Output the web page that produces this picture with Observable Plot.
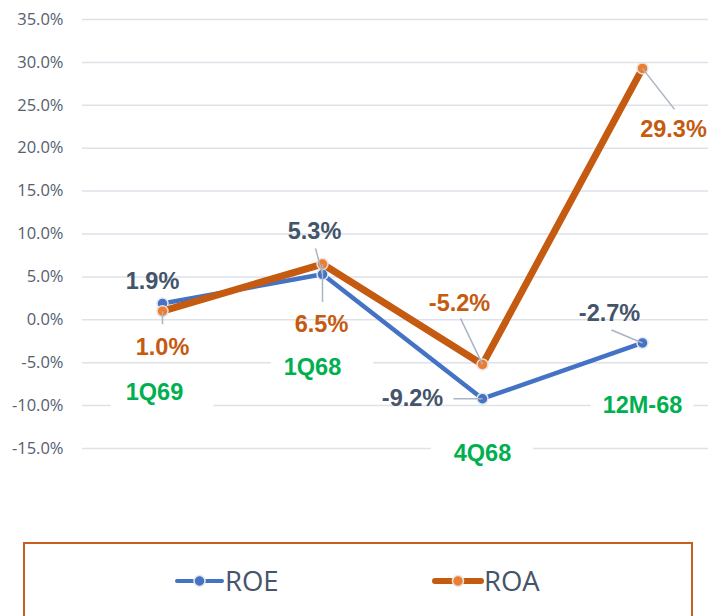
<!DOCTYPE html>
<html><head><meta charset="utf-8">
<script src="https://cdn.jsdelivr.net/npm/d3@7"></script>
<script src="https://cdn.jsdelivr.net/npm/@observablehq/plot@0.6"></script>
<style>
html,body{margin:0;padding:0;background:#fff;}
body{width:708px;height:616px;overflow:hidden;position:relative;}
#chart{position:absolute;left:0;top:0;}
#legend{position:absolute;left:23px;top:542px;width:670px;height:120px;border:2px solid #c65f1f;box-sizing:border-box;}
#legend svg{display:block;}
</style></head><body>
<div id="chart"></div>
<div id="legend"></div>
<script>
// ---- data ----
const categories = ["1Q69", "1Q68", "4Q68", "12M-68"];
const roe = [1.9, 5.3, -9.2, -2.7];
const roa = [1.0, 6.5, -5.2, 29.3];
const yTicks = [-15, -10, -5, 0, 5, 10, 15, 20, 25, 30, 35];
const seriesNames = ["ROE", "ROA"];

// ---- layout / style ----
const W = 708, H = 530;
const X_RANGE = [82, 722], Y_RANGE_TOP = 19, Y_RANGE_BOTTOM = 448;
const PX_X = (X_RANGE[1] - X_RANGE[0]) / 4;
const PX_Y = (Y_RANGE_BOTTOM - Y_RANGE_TOP) / 50;
const C_ROE = "#4472c4", C_ROA = "#c55a11", C_ROA_DOT = "#ed7d31";
const C_ROE_LABEL = "#44546a", C_CAT = "#00b050";
const labelFont = "Liberation Sans, Arial, sans-serif";
const LABEL_SIZE = 23.5;

const rows = categories.map((c, i) => ({i, c, roe: roe[i], roa: roa[i]}));

// data-label offsets (px) relative to their points
const roeLabelOff = [[-10, -22], [-8, -43], [-70, 0], [-33, -29]];
const roaLabelOff = [[0, 36], [-1, 60], [-23, -61], [31, 61]];
// leader line end offsets (px) relative to points (null = none)
const roeLeader = [null, [-7, -26], [-29, 0], [-31, -13]];
const roaLeader = [[0, 13], [0, 38], [-22, -46], [32, 41]];
// category label offsets (px) relative to the 0 line
const catOff = [[-8, 73], [-10, 48], [0, 134], [0, 86]];

const marks = [];
marks.push(Plot.ruleY(yTicks, {stroke: "#dde1e8", strokeWidth: 1.5}));

// category labels with white backgrounds
rows.forEach((d, k) => {
  const [dx, dy] = catOff[k];
  const yc = -dy / PX_Y;
  marks.push(Plot.rect([d], {x1: d => d.i - 0.32, x2: d => d.i + 0.32, y1: yc - 1.7, y2: yc + 1.7, fill: "white"}));
  marks.push(Plot.text([d], {x: "i", y: 0, text: "c", dx, dy, fill: C_CAT, fontSize: LABEL_SIZE, fontWeight: "bold", fontFamily: labelFont}));
});

// series
marks.push(Plot.line(rows, {x: "i", y: "roe", stroke: C_ROE, strokeWidth: 4.5, strokeLinejoin: "round", strokeLinecap: "round"}));
marks.push(Plot.dot(rows, {x: "i", y: "roe", r: 5.5, fill: C_ROE, stroke: "#e3e6ec", strokeWidth: 1.5}));
marks.push(Plot.line(rows, {x: "i", y: "roa", stroke: C_ROA, strokeWidth: 7, strokeLinejoin: "round", strokeLinecap: "round"}));
marks.push(Plot.dot(rows, {x: "i", y: "roa", r: 5.5, fill: C_ROA_DOT, stroke: "#e8e2de", strokeWidth: 1.5}));

// leader lines
const leaders = [];
rows.forEach((d, k) => {
  if (roeLeader[k]) leaders.push({x1: d.i, y1: d.roe, x2: d.i + roeLeader[k][0] / PX_X, y2: d.roe - roeLeader[k][1] / PX_Y});
  if (roaLeader[k]) leaders.push({x1: d.i, y1: d.roa, x2: d.i + roaLeader[k][0] / PX_X, y2: d.roa - roaLeader[k][1] / PX_Y});
});
marks.push(Plot.link(leaders, {x1: "x1", y1: "y1", x2: "x2", y2: "y2", stroke: "#a9b4c4", strokeWidth: 1.5}));

// data labels
rows.forEach((d, k) => {
  marks.push(Plot.text([d], {x: "i", y: "roe", text: d => d.roe.toFixed(1) + "%", dx: roeLabelOff[k][0], dy: roeLabelOff[k][1], fill: C_ROE_LABEL, fontSize: LABEL_SIZE, fontWeight: "bold", fontFamily: labelFont}));
  marks.push(Plot.text([d], {x: "i", y: "roa", text: d => d.roa.toFixed(1) + "%", dx: roaLabelOff[k][0], dy: roaLabelOff[k][1], fill: C_ROA, fontSize: LABEL_SIZE, fontWeight: "bold", fontFamily: labelFont}));
});

const plot = Plot.plot({
  width: W,
  height: H,
  marginLeft: 82,
  marginRight: 0,
  marginTop: Y_RANGE_TOP,
  marginBottom: H - Y_RANGE_BOTTOM,
  style: {fontFamily: "Open Sans, sans-serif", fontSize: "16.5px", color: "#556070", background: "white", overflow: "visible"},
  x: {domain: [-0.5, 3.5], range: X_RANGE, axis: null},
  y: {domain: [-15, 35], ticks: yTicks, tickFormat: d => d.toFixed(1) + "%", tickSize: 0, tickPadding: 19, label: null},
  marks
});
document.getElementById("chart").appendChild(plot);

// legend
const legendItems = [
  {name: seriesNames[0], line: C_ROE, dot: C_ROE, w: 4, x0: 152, x1: 197, tx: 200},
  {name: seriesNames[1], line: C_ROA, dot: C_ROA_DOT, w: 6, x0: 410, x1: 456, tx: 459}
];
const lg = d3.create("svg").attr("width", 666).attr("height", 100);
for (const it of legendItems) {
  lg.append("line").attr("x1", it.x0).attr("x2", it.x1).attr("y1", 37).attr("y2", 37)
    .attr("stroke", it.line).attr("stroke-width", it.w).attr("stroke-linecap", "round");
  lg.append("circle").attr("cx", (it.x0 + it.x1) / 2).attr("cy", 37).attr("r", 5.5)
    .attr("fill", it.dot).attr("stroke", "#e6e6e6").attr("stroke-width", 1.5);
  lg.append("text").attr("x", it.tx).attr("y", 47).text(it.name)
    .attr("fill", "#44546a").attr("font-family", "Open Sans, sans-serif").attr("font-size", 27.5);
}
document.getElementById("legend").appendChild(lg.node());
</script>
</body></html>
